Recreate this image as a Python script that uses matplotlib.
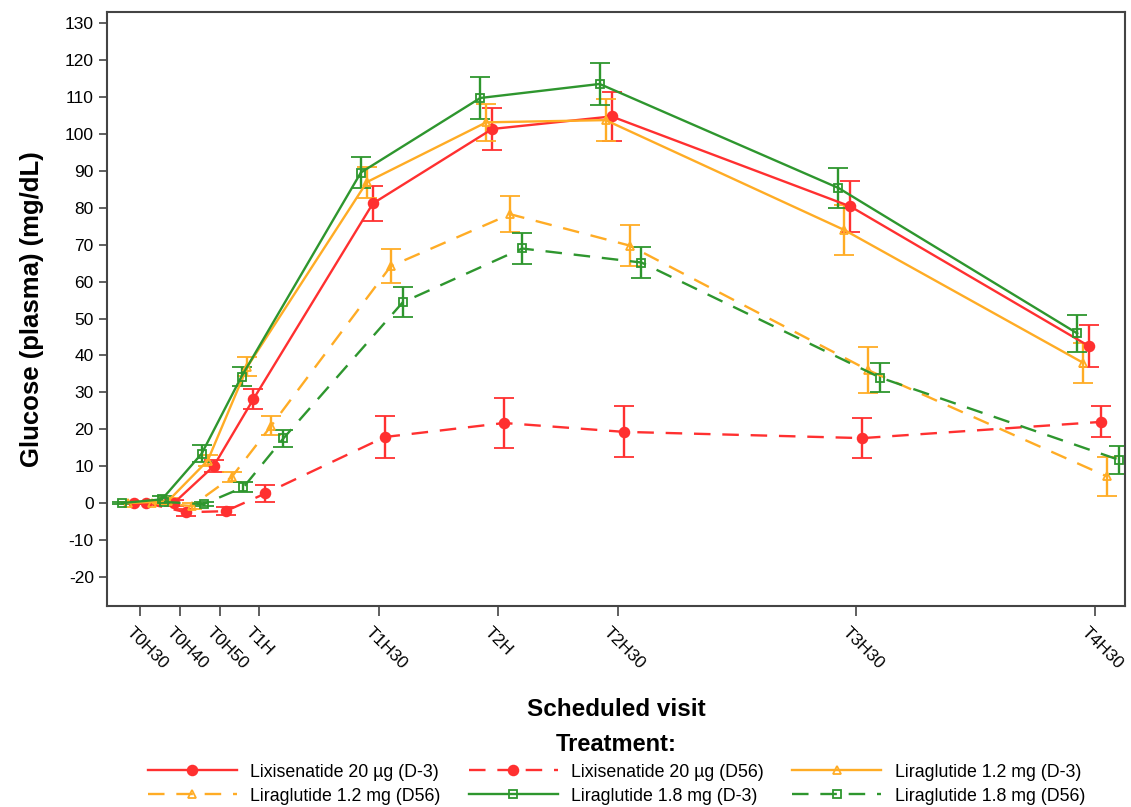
import numpy as np
import matplotlib
matplotlib.use("Agg")
import matplotlib.pyplot as plt
import matplotlib.transforms as mtrans

plt.rcParams['font.family'] = ['Liberation Sans', 'DejaVu Sans']
plt.rcParams['axes.unicode_minus'] = False

# scheduled visits (minutes after dosing) and labels
visit_min = [30, 40, 50, 60, 90, 120, 150, 210, 270]
visit_lab = ['T0H30', 'T0H40', 'T0H50', 'T1H', 'T1H30', 'T2H', 'T2H30', 'T3H30', 'T4H30']

# mean change in glucose (mg/dL) and half-width of error bar
lixi_d3 = [0, 0, 10, 28.2, 81.2, 101.4, 104.8, 80.4, 42.5]
lixi_d3_err = [0.3, 0.8, 1.6, 2.6, 4.7, 5.7, 6.6, 6.8, 5.7]
lixi_d56 = [0, -2.5, -2.2, 2.6, 17.9, 21.7, 19.3, 17.6, 22]
lixi_d56_err = [0.3, 1.0, 1.0, 2.3, 5.7, 6.8, 6.9, 5.4, 4.2]
lira12_d3 = [0, 0.5, 11.5, 37, 87, 103.2, 103.8, 74, 38]
lira12_d3_err = [0.3, 0.8, 1.5, 2.5, 4.2, 5.0, 5.7, 6.8, 5.5]
lira12_d56 = [0, -0.8, 7, 21, 64.2, 78.3, 69.8, 36, 7.2]
lira12_d56_err = [0.3, 0.8, 1.4, 2.6, 4.6, 4.9, 5.6, 6.2, 5.2]
lira18_d3 = [0, 1, 13.4, 34.3, 89.6, 109.8, 113.6, 85.4, 46]
lira18_d3_err = [0.3, 0.8, 2.3, 2.7, 4.1, 5.6, 5.8, 5.4, 5.0]
lira18_d56 = [0.3, -0.3, 4.3, 17.5, 54.4, 69, 65.2, 34, 11.7]
lira18_d56_err = [0.3, 0.6, 1.4, 2.2, 4.1, 4.3, 4.1, 3.9, 3.7]

red, orange, green = '#FF3030', '#FFAC25', '#2E962E'
dash = (7, 5)

# (label, mean, err, colour, marker, filled, dashed, x shift in minutes)
series = [
    ('Lixisenatide 20 µg (D-3)', lixi_d3, lixi_d3_err, red, 'o', True, False, -1.5),
    ('Lixisenatide 20 µg (D56)', lixi_d56, lixi_d56_err, red, 'o', True, True, 1.5),
    ('Liraglutide 1.2 mg (D-3)', lira12_d3, lira12_d3_err, orange, '^', False, False, -3),
    ('Liraglutide 1.2 mg (D56)', lira12_d56, lira12_d56_err, orange, '^', False, True, 3),
    ('Liraglutide 1.8 mg (D-3)', lira18_d3, lira18_d3_err, green, 's', False, False, -4.5),
    ('Liraglutide 1.8 mg (D56)', lira18_d56, lira18_d56_err, green, 's', False, True, 6),
]

fig = plt.figure(figsize=(11.31, 8.07), dpi=100)
ax = fig.add_axes([0.0946, 0.2491, 0.9001, 0.736])

handles, labels = [], []
for lab, y, e, c, m, filled, dashed, dx in series:
    x = np.array(visit_min) + dx
    ms = 7 if m == 'o' else 6.2
    eb = ax.errorbar(x, y, yerr=e, color=c, marker=m, markersize=ms,
                     markerfacecolor=c if filled else 'none', markeredgecolor=c,
                     markeredgewidth=1.3, linewidth=1.7, elinewidth=1.7,
                     capsize=7, capthick=1.7)
    if dashed:
        eb.lines[0].set_dashes(dash)
    handles.append(eb.lines[0])
    labels.append(lab)

ax.set_xlim(21.7, 277.5)
ax.set_ylim(-27.9, 133.1)
ax.set_yticks(np.arange(-20, 131, 10))
ax.set_xticks(visit_min)
ax.set_xticklabels([])
# slanted visit labels, placed just below each tick
off = mtrans.ScaledTranslation(-6 / 100, -19 / 100, fig.dpi_scale_trans)
for xm, lab in zip(visit_min, visit_lab):
    ax.text(xm, 0, lab, transform=ax.get_xaxis_transform() + off,
            rotation=-45, rotation_mode='anchor', ha='left', va='top',
            fontsize=12.5, clip_on=False)
ax.tick_params(axis='y', labelsize=12.5, length=6, width=1.2, color='#444444')
ax.tick_params(axis='x', length=7, width=1.2, color='#444444')
for s in ax.spines.values():
    s.set_linewidth(1.5)
    s.set_color('#444444')

ax.set_xlabel('Scheduled visit', fontsize=17.5, fontweight='bold', labelpad=56)
ax.set_ylabel('Glucose (plasma) (mg/dL)', fontsize=18.5, fontweight='bold', labelpad=15)

# legend filled row by row like the reference
order = [0, 3, 1, 4, 2, 5]
fig.legend([handles[i] for i in order], [labels[i] for i in order],
           loc='lower center', bbox_to_anchor=(0.545, -0.017),
           ncol=3, frameon=False, fontsize=12.8, handlelength=5.0,
           columnspacing=1.6, handletextpad=0.75, labelspacing=0.4,
           title='Treatment:', title_fontproperties={'weight': 'bold', 'size': 17})

fig.savefig('out.png', dpi=100)
